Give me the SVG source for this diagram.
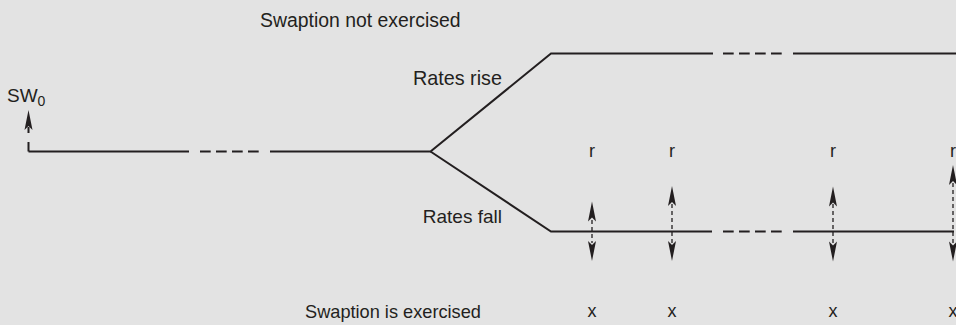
<svg xmlns="http://www.w3.org/2000/svg" width="956" height="325" viewBox="0 0 956 325">
<style>
text{font-family:"Liberation Sans",Arial,sans-serif;font-size:19px;fill:#231f20}
.ln{stroke:#231f20;stroke-width:2;fill:none}
.dh{stroke:#231f20;stroke-width:2;fill:none;stroke-dasharray:10.7 5.3}
.st{stroke:#231f20;stroke-width:1.3;fill:none;stroke-dasharray:4 3}
.lab{text-anchor:middle;font-size:18px}
</style>
<defs>
<path id="up" d="M0,0 L4,20 L0,16 L-4,20 Z" fill="#231f20"/>
<path id="dn" d="M0,0 L4,-20 L0,-16 L-4,-20 Z" fill="#231f20"/>
</defs>
<rect width="956" height="325" fill="#e3e3e3"/>
<g id="connectors">
<path class="ln" d="M28.5,151.5 H189"/>
<path class="dh" d="M200,151.5 H260"/>
<path class="ln" d="M270,151.5 H430.5 L551,53.5 H713"/>
<path class="ln" d="M430.5,151.5 L551,231.5 H712"/>
<path class="dh" d="M723,53.5 H782"/>
<path class="dh" d="M723,231.5 H782"/>
<path class="ln" d="M793,53.5 H956"/>
<path class="ln" d="M793,231.5 H954"/>
<path class="ln" d="M28.5,151.5 V142 M28.5,133 V127" stroke-width="1.3"/>
<use href="#up" x="28.5" y="110"/>
<path class="st" d="M592,220 V243"/>
<use href="#up" x="592" y="201.5"/>
<use href="#dn" x="592" y="261"/>
<path class="st" d="M672,204 V243"/>
<use href="#up" x="672" y="186"/>
<use href="#dn" x="672" y="261"/>
<path class="st" d="M833,204 V243"/>
<use href="#up" x="833" y="186.5"/>
<use href="#dn" x="833" y="261.5"/>
<path class="st" d="M953,183 V243"/>
<use href="#up" x="953" y="165"/>
<use href="#dn" x="953" y="261.5"/>
</g>
<g id="sw0"><text x="7" y="101.5">SW<tspan style="font-size:14px" dy="4.5">0</tspan></text></g>
<g id="not-exercised"><text x="260" y="27" style="font-size:19.4px">Swaption not exercised</text></g>
<g id="rates-rise"><text x="502" y="85" text-anchor="end" style="font-size:19.8px">Rates rise</text></g>
<g id="rates-fall"><text x="502" y="223" text-anchor="end">Rates fall</text></g>
<g id="is-exercised"><text x="305" y="318" style="font-size:18.2px">Swaption is exercised</text></g>
<g id="r-labels">
<text class="lab" x="592" y="157">r</text>
<text class="lab" x="672" y="157">r</text>
<text class="lab" x="833" y="157">r</text>
<text class="lab" x="953" y="157">r</text>
</g>
<g id="x-labels">
<text class="lab" x="592" y="317">x</text>
<text class="lab" x="672" y="317">x</text>
<text class="lab" x="833" y="317">x</text>
<text class="lab" x="953" y="317">x</text>
</g>
</svg>
